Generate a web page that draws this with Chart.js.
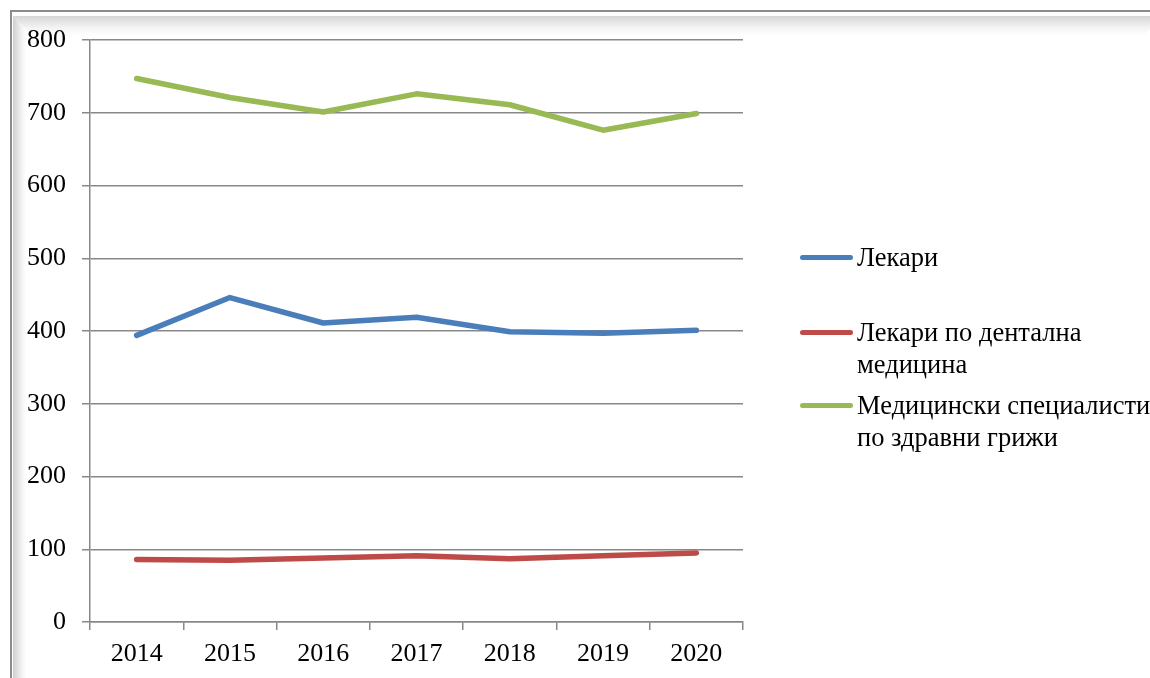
<!DOCTYPE html>
<html><head><meta charset="utf-8">
<script src="https://cdn.jsdelivr.net/npm/chart.js@4/dist/chart.umd.min.js"></script>
<style>
html,body{margin:0;padding:0;background:#fff;}
#wrap{position:relative;width:1150px;height:678px;overflow:hidden;background:#fff;}
.fTop{position:absolute;left:10px;top:10px;width:1200px;height:2px;background:#8c8c8c;}
.fLeft{position:absolute;left:10px;top:10px;width:2px;height:700px;background:#8c8c8c;}
.shTop{position:absolute;left:13px;top:16px;width:1150px;height:20px;background:linear-gradient(#d6d6d6,#f4f4f4 60%,#fff);clip-path:polygon(0 0,100% 0,calc(100% - 20px) 100%,20px 100%);}
.shLeft{position:absolute;left:13px;top:16px;width:13px;height:700px;background:linear-gradient(90deg,#cfcfcf,#efefef 60%,#fff);clip-path:polygon(0 0,100% 13px,100% calc(100% - 13px),0 100%);}
canvas{position:absolute;left:0;top:0;}
.lg{position:absolute;left:800px;font-family:"Liberation Serif","Times New Roman",serif;font-size:26.5px;color:#000;line-height:32px;}
.lg .mk{position:absolute;left:0;width:53px;height:5px;border-radius:3px;}
.lg .tx{position:absolute;left:57px;white-space:nowrap;}
</style></head>
<body>
<div id="wrap">
<div class="fTop"></div><div class="fLeft"></div><div class="shTop"></div><div class="shLeft"></div>
<canvas id="c" width="1150" height="678"></canvas>
<div id="legend"></div>
</div>
<script>
const categories = ["2014","2015","2016","2017","2018","2019","2020"];
const seriesNames = [["Лекари"],["Лекари по дентална","медицина"],["Медицински специалисти","по здравни грижи"]];
const doctors = [394, 446, 411, 419, 399, 397, 401];
const dentists = [86, 85, 88, 91, 87, 91, 95];
const nurses = [747, 721, 701, 726, 711, 676, 699];
const yTicks = [0,100,200,300,400,500,600,700,800];
const colors = ["#4A7EBB","#BE4B48","#98B954"];
const legendY = [[257],[332,364],[405,437]];

const values = [doctors, dentists, nurses];
const ctx = document.getElementById('c');
const chart = new Chart(ctx, {
  type: 'line',
  data: {
    labels: categories,
    datasets: values.map((v,i)=>({
      label: seriesNames[i].join(' '),
      data: v,
      borderColor: colors[i],
      backgroundColor: colors[i],
      borderWidth: 5.5,
      pointRadius: 0,
      tension: 0,
      borderCapStyle: 'round',
      borderJoinStyle: 'round',
      fill: false
    }))
  },
  options: {
    responsive: false,
    animation: false,
    devicePixelRatio: 1,
    layout: { padding: { left: 0, right: 407, top: 40, bottom: 0 } },
    plugins: { legend: { display: false }, tooltip: { enabled: false } },
    scales: {
      x: {
        offset: true,
        grid: { offset: true, drawOnChartArea: false, color: '#888', lineWidth: 1.5, tickLength: 8, tickColor: '#888' },
        border: { color: '#888', width: 1.5 },
        ticks: { color: '#000', font: { family: "'Liberation Serif','Times New Roman',serif", size: 26 }, padding: 9, maxRotation: 0 },
        afterFit: s => { s.height = 56; }
      },
      y: {
        min: 0, max: 800,
        afterBuildTicks: s => { s.ticks = yTicks.map(v=>({value:v})); },
        grid: { color: '#888', lineWidth: 1.5, tickLength: 8, tickColor: '#888' },
        border: { color: '#888', width: 1.5 },
        ticks: { color: '#000', font: { family: "'Liberation Serif','Times New Roman',serif", size: 26 }, padding: 16 },
        afterFit: s => { s.width = 90; }
      }
    }
  }
});

const lg = document.getElementById('legend');
seriesNames.forEach((lines,i)=>{
  const d = document.createElement('div');
  d.className = 'lg';
  d.style.top = (legendY[i][0]-16)+'px';
  const mk = document.createElement('div');
  mk.className = 'mk'; mk.style.background = colors[i]; mk.style.top = '14px';
  d.appendChild(mk);
  lines.forEach((t,j)=>{
    const tx = document.createElement('div');
    tx.className = 'tx'; tx.textContent = t;
    tx.style.top = (legendY[i][j]-legendY[i][0])+'px';
    d.appendChild(tx);
  });
  lg.appendChild(d);
});
</script>
</body></html>
